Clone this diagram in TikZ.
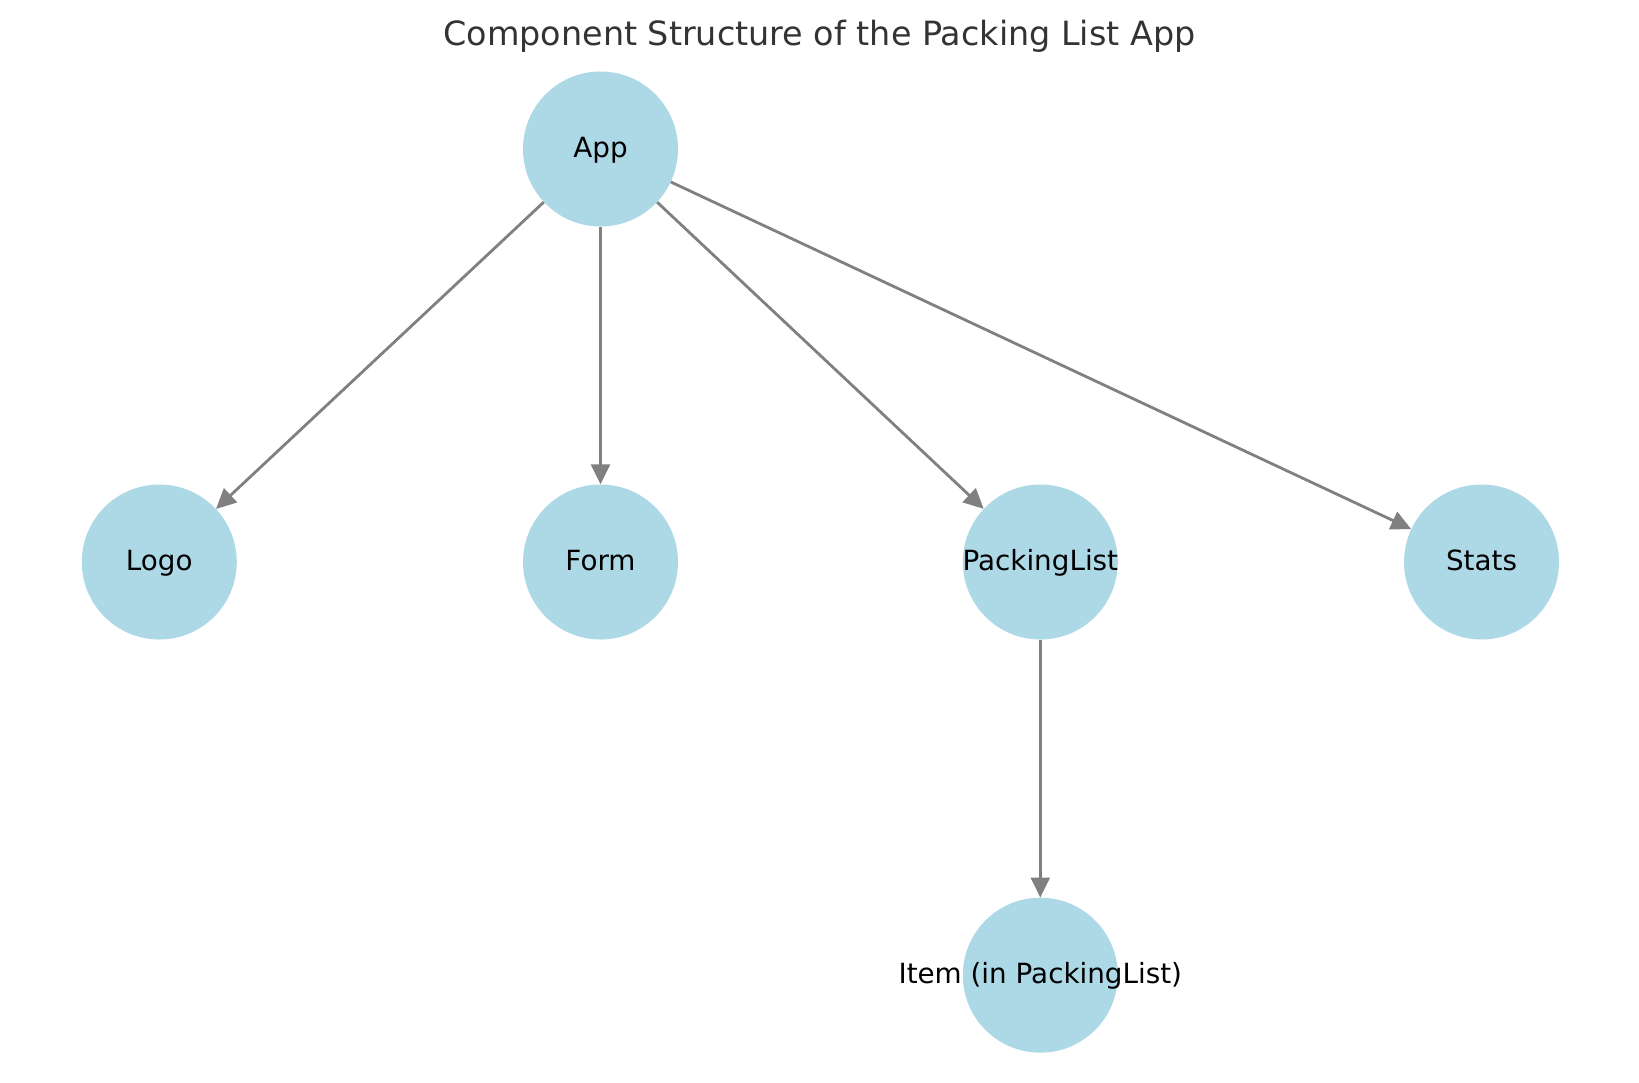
\documentclass[tikz,border=0pt]{standalone}
\usepackage{fontspec}
\setmainfont{DejaVu Sans}
\usetikzlibrary{arrows.meta}
\definecolor{nodeblue}{HTML}{ADD8E6}
\definecolor{edgegray}{HTML}{808080}
\definecolor{titlegray}{HTML}{333333}
\tikzset{
  comp/.style={circle, fill=nodeblue, draw=none, inner sep=0pt, minimum size=155pt},
  lbl/.style={inner sep=0pt, text height=20pt, text depth=4pt, font=\fontsize{27.8pt}{30pt}\selectfont, text=black},
  edge/.style={draw=edgegray, line width=2.8pt, -{Triangle[length=20pt,width=19pt]}}
}
\begin{document}
\begin{tikzpicture}[x=1pt,y=-1pt]
\useasboundingbox (0,0) rectangle (1639,1082);
\node[anchor=base, inner sep=0pt, text=titlegray, font=\fontsize{33.4pt}{36pt}\selectfont] (title) at (819.5,45) {Component Structure of the Packing List App};
\node[comp] (app) at (600.5,149) {};
\node[comp] (logo) at (159.3,562) {};
\node[comp] (form) at (600.5,562) {};
\node[comp] (plist) at (1040.3,562) {};
\node[comp] (stats) at (1481.5,562) {};
\node[comp] (item) at (1040.3,975.2) {};
\draw[edge] (app) -- (logo);
\draw[edge] (app) -- (form);
\draw[edge] (app) -- (plist);
\draw[edge] (app) -- (stats);
\draw[edge] (plist) -- (item);
\node[lbl] (appl) at (app) {App};
\node[lbl] (logol) at (logo) {Logo};
\node[lbl] (forml) at (form) {Form};
\node[lbl] (plistl) at (plist) {PackingList};
\node[lbl] (statsl) at (stats) {Stats};
\node[lbl] (iteml) at (item) {Item (in PackingList)};
\end{tikzpicture}
\end{document}
